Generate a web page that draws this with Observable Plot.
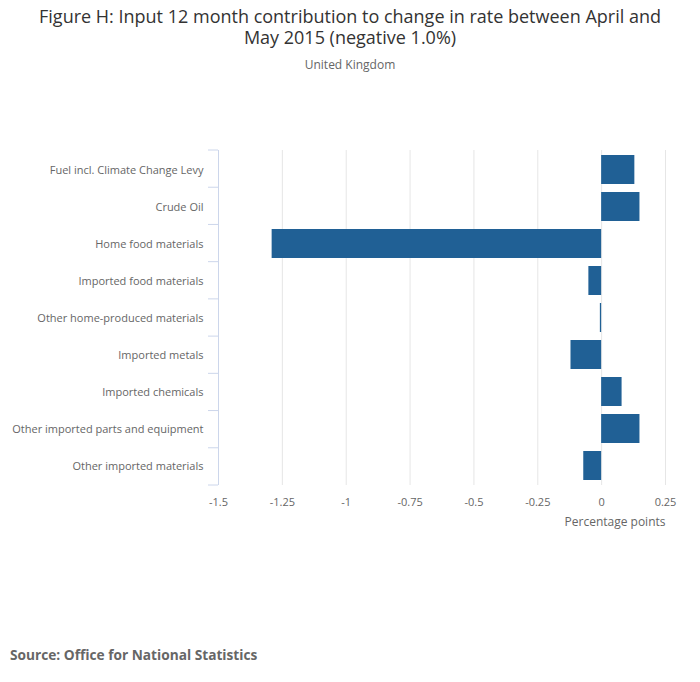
<!DOCTYPE html>
<html>
<head>
<meta charset="utf-8">
<script src="https://cdn.jsdelivr.net/npm/d3@7"></script>
<script src="https://cdn.jsdelivr.net/npm/@observablehq/plot@0.6"></script>
<style>
  body { margin: 0; background: #fff; font-family: "Open Sans", sans-serif; }
  #wrap { position: relative; width: 700px; height: 682px; overflow: hidden; }
  #title { position: absolute; top: 6px; left: 35px; width: 630px; text-align: center; font-size: 18px; line-height: 21px; color: #333; }
  #subtitle { position: absolute; top: 56px; left: 0; width: 700px; text-align: center; font-size: 12px; color: #666; }
  #source { position: absolute; top: 645px; left: 10px; font-size: 13.7px; font-weight: bold; color: #666; }
  #chart { position: absolute; top: 0; left: 0; }
</style>
</head>
<body>
<div id="wrap">
  <div id="chart"></div>
  <div id="title">Figure H: Input 12 month contribution to change in rate between April and May 2015 (negative 1.0%)</div>
  <div id="subtitle">United Kingdom</div>
  <div id="source">Source: Office for National Statistics</div>
</div>
<script>
const categories = [
  "Fuel incl. Climate Change Levy",
  "Crude Oil",
  "Home food materials",
  "Imported food materials",
  "Other home-produced materials",
  "Imported metals",
  "Imported chemicals",
  "Other imported parts and equipment",
  "Other imported materials"
];
const values = [0.13, 0.15, -1.29, -0.05, -0.005, -0.12, 0.08, 0.15, -0.07];
const xTicks = [-1.5, -1.25, -1, -0.75, -0.5, -0.25, 0, 0.25];
const xTickLabels = ["-1.5", "-1.25", "-1", "-0.75", "-0.5", "-0.25", "0", "0.25"];

const data = categories.map((c, i) => ({category: c, value: values[i]}));

const plotTop = 150, plotBottom = 485;
const chart = Plot.plot({
  width: 700,
  height: 682,
  marginLeft: 218,
  marginRight: 35,
  marginTop: plotTop,
  marginBottom: 682 - plotBottom,
  style: { fontFamily: "Open Sans, sans-serif", fontSize: "11px", color: "#666", background: "transparent" },
  x: { domain: [-1.5, 0.25], ticks: xTicks, tickFormat: (d) => xTickLabels[xTicks.indexOf(d)], label: null },
  y: { domain: categories, padding: 0, label: null },
  marks: [
    Plot.gridX(xTicks, { stroke: "#e6e6e6", strokeOpacity: 1 }),
    Plot.barX(data, { x: "value", y: "category", fill: "#206095", insetTop: 4, insetBottom: 4 }),
    Plot.axisX({ ticks: xTicks, tickSize: 0, tickPadding: 13, tickFormat: (d) => xTickLabels[xTicks.indexOf(d)], fill: "#666", fontSize: 11, label: null }),
    Plot.axisY({ tickSize: 0, tickPadding: 15, fill: "#666", fontSize: 11, label: null }),
    Plot.ruleX([-1.5], { stroke: "#ccd6eb" }),
    Plot.text(["Percentage points"], { frameAnchor: "bottom-right", dy: 40, textAnchor: "end", fill: "#666", fontSize: 12 })
  ]
});

// category boundary tick marks on the y axis (Highcharts-style "between" placement)
const svgSel = d3.select(chart);
const nCat = categories.length;
for (let i = 0; i <= nCat; i++) {
  const yy = plotTop + (plotBottom - plotTop) * i / nCat;
  svgSel.append("line").attr("x1", 208).attr("x2", 218).attr("y1", yy).attr("y2", yy)
    .attr("stroke", "#ccd6eb").attr("stroke-width", 1);
}
document.getElementById("chart").appendChild(chart);
</script>
</body>
</html>
